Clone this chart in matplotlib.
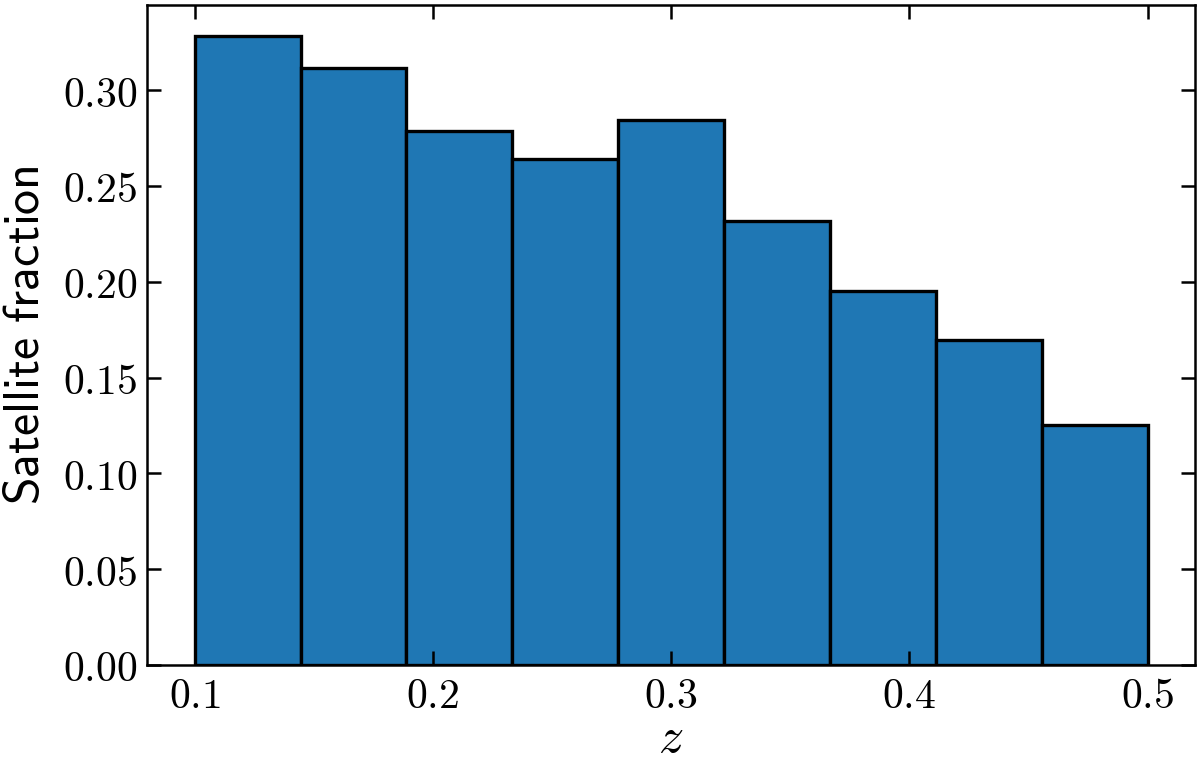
import numpy as np
import matplotlib
matplotlib.use("Agg")
import matplotlib.pyplot as plt
from matplotlib.ticker import FuncFormatter

plt.rcParams["mathtext.fontset"] = "cm"

# redshift bins and satellite fraction per bin
z_edges = np.linspace(0.1, 0.5, 10)
sat_fraction = [0.328, 0.3115, 0.2787, 0.264, 0.2843, 0.2317, 0.1952, 0.1695, 0.1255]
x_ticks = [0.1, 0.2, 0.3, 0.4, 0.5]
y_ticks = [0.00, 0.05, 0.10, 0.15, 0.20, 0.25, 0.30]

fig = plt.figure(figsize=(6, 3.81), dpi=200)
ax = fig.add_axes([0.1225, 0.1273, 0.8735, 0.8661])

ax.bar(z_edges[:-1], sat_fraction, width=np.diff(z_edges), align="edge",
       color="#1f77b4", edgecolor="black", linewidth=1.2)

ax.set_xticks(x_ticks)
ax.set_yticks(y_ticks)
ax.xaxis.set_major_formatter(FuncFormatter(lambda v, p: "$%.1f$" % v))
ax.yaxis.set_major_formatter(FuncFormatter(lambda v, p: "$%.2f$" % v))
ax.tick_params(direction="in", top=True, right=True, labelsize=15,
               length=5, width=0.9)
for s in ax.spines.values():
    s.set_linewidth(0.9)

ax.set_xlabel("$z$", fontsize=18, labelpad=-1)
ax.set_ylabel(r"$\mathsf{Satellite\ fraction}$", fontsize=18, labelpad=5)

fig.savefig("out.png", dpi=200)
